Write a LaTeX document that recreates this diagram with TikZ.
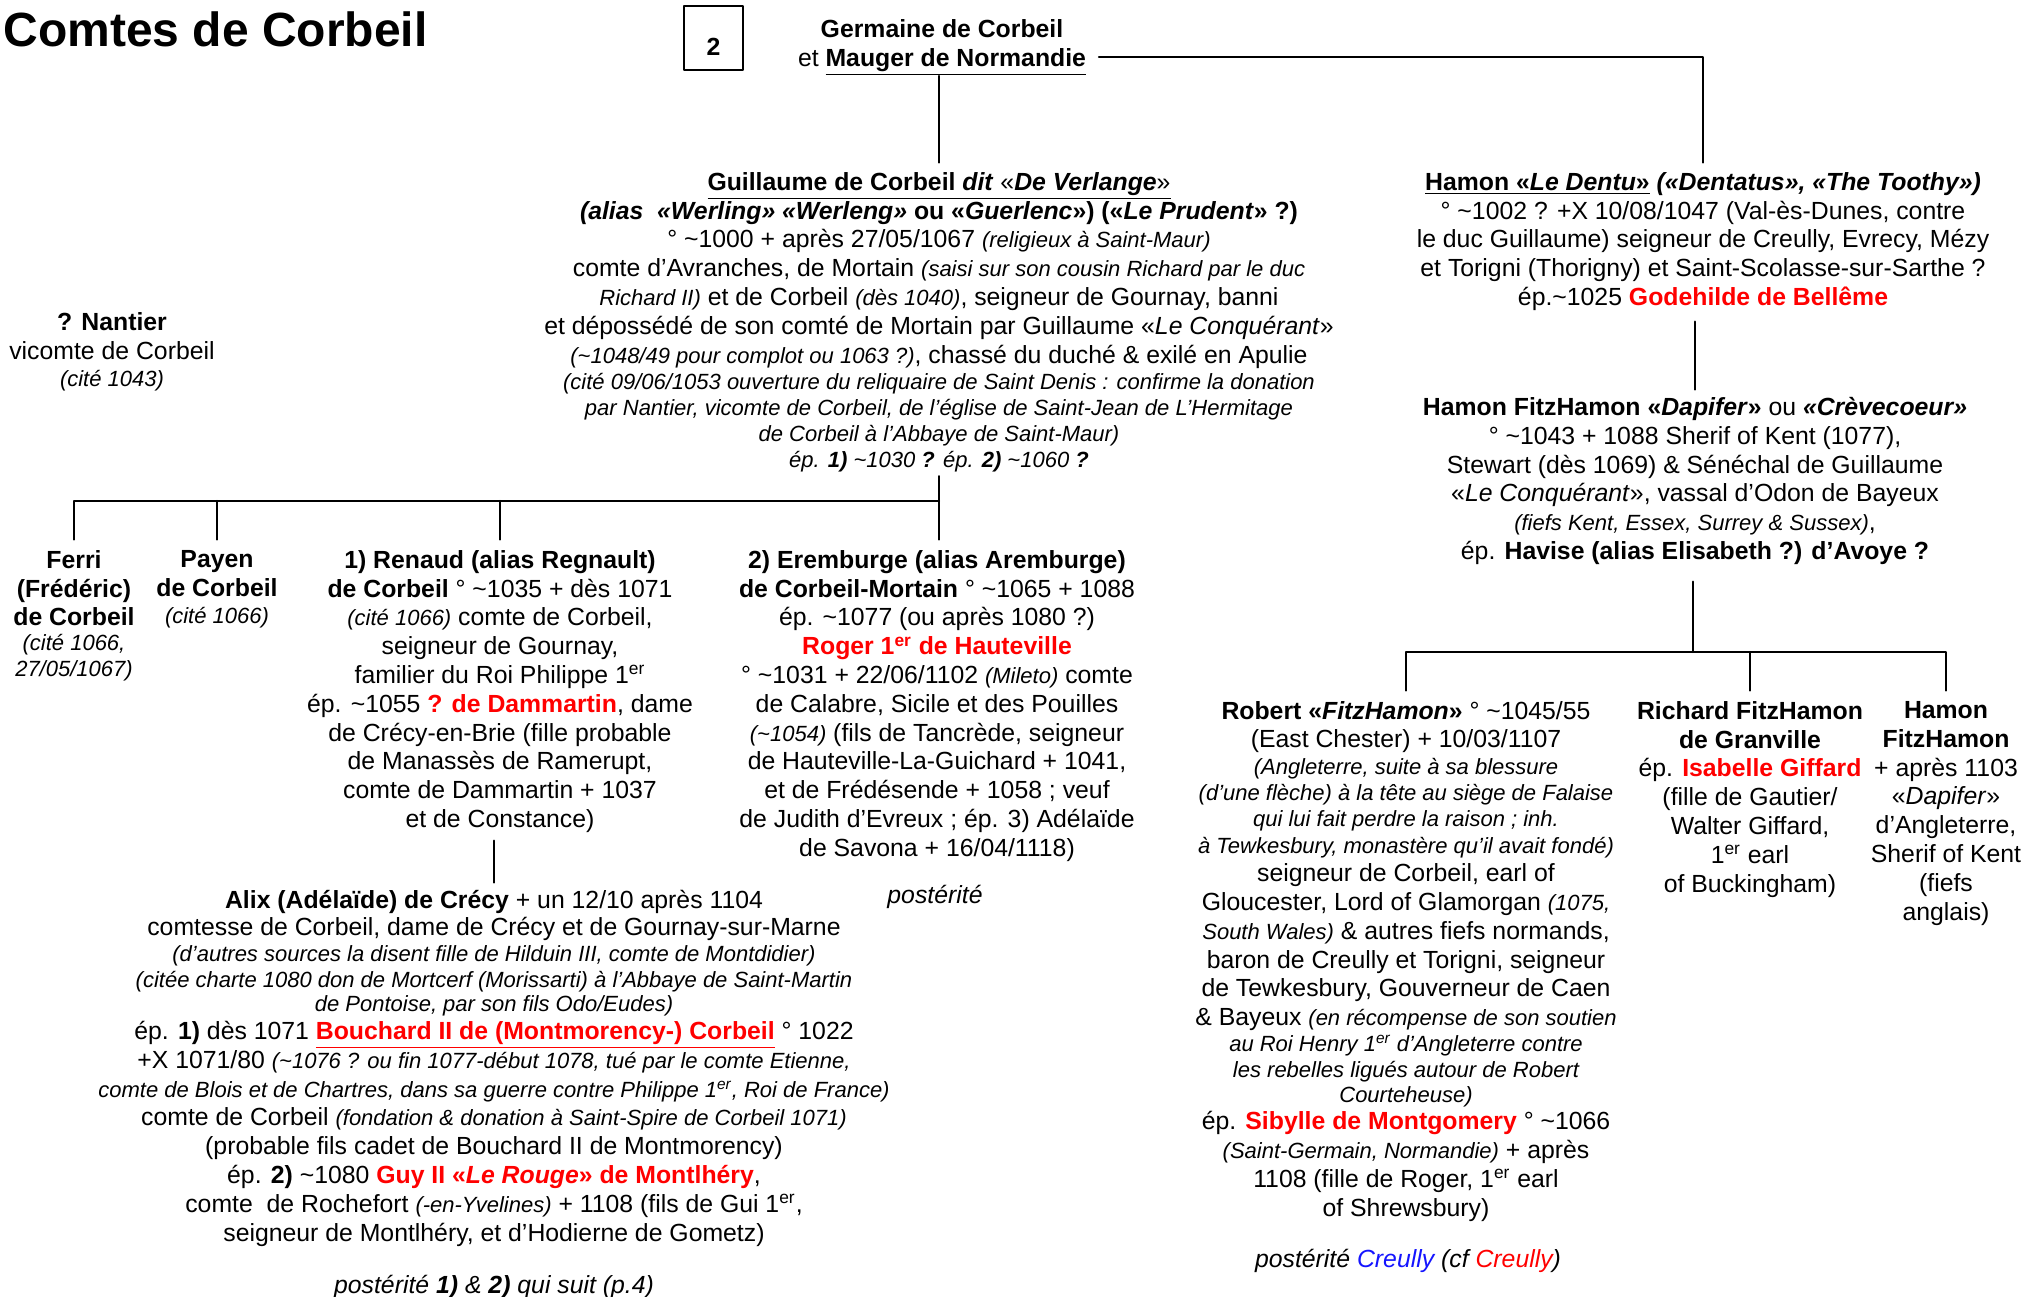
\documentclass[tikz,border=0pt]{standalone}
\usepackage{fontspec}
\setmainfont{Liberation Sans}

\definecolor{kinred}{RGB}{255,0,0}
\definecolor{kinblue}{RGB}{20,20,255}

% small helpers for the family notes
\newcommand{\tld}{\textasciitilde}
\newcommand{\inote}[1]{{\fontsize{11}{14.4}\selectfont\itshape #1}}
\newcommand{\redname}[1]{\textcolor{kinred}{\textbf{#1}}}
\newcommand{\ier}{\textsuperscript{er}}

\begin{document}
\begin{tikzpicture}[
		x=0.5pt, y=-0.5pt,   % pixel-like units, y pointing down
		line cap=round, line join=round,
		% --- person blocks ---
		kin/.style={align=center, anchor=north, inner sep=0pt, yshift=-1.25pt,
			font=\fontsize{12.4}{14.4}\selectfont,
			execute at begin node=\strut, execute at end node=\strut},
		oneline/.style={anchor=base, inner sep=0pt, yshift=-0.5pt,
			font=\fontsize{12.4}{14.4}\selectfont\itshape},
		link/.style={line width=1.15pt},
		pagebox/.style={draw, line width=1pt, minimum width=29.5pt,
			minimum height=32pt, inner sep=0pt}
		]
		
		\useasboundingbox (0,0) rectangle (2023,1296);
		
		% ---------- Title and page number ----------
		\node[anchor=base west, inner sep=0pt, font=\fontsize{24}{28}\selectfont\bfseries]
		(title) at (3,46) {Comtes de Corbeil};
		\node[pagebox] (page) at (713.5,38) {};
		\node[font=\fontsize{12.4}{14.4}\selectfont\bfseries, inner sep=0pt]
		at ([yshift=-4.25pt]page.center) {2};
		
		% ---------- Generation 1 ----------
		\node[kin] (germaine) at (942,16.5) {\textbf{Germaine de Corbeil}\\
			et \underline{\textbf{Mauger de Normandie}}};
		
		% ---------- Generation 2 ----------
		\node[kin] (guillaume) at (939,169.5) {%
			\underline{\textbf{Guillaume de Corbeil \textit{dit}} «\textbf{\textit{De Verlange}}»}\\
			\textbf{\textit{(alias\ \ «Werling» «Werleng»} ou «\textit{Guerlenc}») («\textit{Le Prudent}» ?)}\\
			° \tld1000 + après 27/05/1067 \inote{(religieux à Saint-Maur)}\\
			comte d’Avranches, de Mortain \inote{(saisi sur son cousin Richard par le duc}\\
			\inote{Richard II)} et de Corbeil \inote{(dès 1040)}, seigneur de Gournay, banni\\
			et dépossédé de son comté de Mortain par Guillaume «\textit{Le Conquérant}»\\
			\inote{(\tld1048/49 pour complot ou 1063 ?)}, chassé du duché \& exilé en Apulie\\[-1.4pt]
			\inote{(cité 09/06/1053 ouverture du reliquaire de Saint Denis : confirme la donation}\\[-1.4pt]
			\inote{par Nantier, vicomte de Corbeil, de l’église de Saint-Jean de L’Hermitage}\\[-1.4pt]
			\inote{de Corbeil à l’Abbaye de Saint-Maur)}\\[-1.4pt]
			\inote{ép. \textbf{1)} \tld1030 \textbf{?} ép. \textbf{2)} \tld1060 \textbf{?}}};
		
		\node[kin] (hamon) at (1703,169.5) {%
			\underline{\textbf{Hamon «\textit{Le Dentu}»}} \textbf{\textit{(«Dentatus», «The Toothy»)}}\\
			° \tld1002 ? +X 10/08/1047 (Val-ès-Dunes, contre\\
			le duc Guillaume) seigneur de Creully, Evrecy, Mézy\\
			et Torigni (Thorigny) et Saint-Scolasse-sur-Sarthe ?\\
			ép.\tld1025 \redname{Godehilde de Bellême}};
		
		\node[kin] (nantier) at (112,309.5) {\textbf{? Nantier}\\
			vicomte de Corbeil\\[-0.9pt]
			\inote{(cité 1043)}};
		
		% ---------- Generation 3 ----------
		\node[kin] (ferri) at (74,547.5) {\textbf{Ferri}\\
			\textbf{(Frédéric)}\\
			\textbf{de Corbeil}\\[-1.9pt]
			\inote{(cité 1066,}\\[-1.4pt]
			\inote{27/05/1067)}};
		
		\node[kin] (payen) at (217,547.5) {\textbf{Payen}\\
			\textbf{de Corbeil}\\[-0.9pt]
			\inote{(cité 1066)}};
		
		\node[kin] (renaud) at (500,547.5) {%
			\textbf{1) Renaud (alias Regnault)}\\
			\textbf{de Corbeil} ° \tld1035 + dès 1071\\
			\inote{(cité 1066)} comte de Corbeil,\\
			seigneur de Gournay,\\
			familier du Roi Philippe 1\ier\\
			ép. \tld1055 \redname{? de Dammartin}, dame\\
			de Crécy-en-Brie (fille probable\\
			de Manassès de Ramerupt,\\
			comte de Dammartin + 1037\\
			et de Constance)};
		
		\node[kin] (eremb) at (937,547.5) {%
			\textbf{2) Eremburge (alias Aremburge)}\\
			\textbf{de Corbeil-Mortain} ° \tld1065 + 1088\\
			ép. \tld1077 (ou après 1080 ?)\\
			\redname{Roger 1\ier{} de Hauteville}\\
			° \tld1031 + 22/06/1102 \inote{(Mileto)} comte\\
			de Calabre, Sicile et des Pouilles\\
			\inote{(\tld1054)} (fils de Tancrède, seigneur\\
			de Hauteville-La-Guichard + 1041,\\
			et de Frédésende + 1058 ; veuf\\
			de Judith d’Evreux ; ép. 3) Adélaïde\\
			de Savona + 16/04/1118)};
		\node[oneline] (eremblater) at (935,902.5) {postérité};
		
		\node[kin] (fitz) at (1695,394.5) {%
			\textbf{Hamon FitzHamon «\textit{Dapifer}»} ou \textbf{\textit{«Crèvecoeur»}}\\
			° \tld1043 + 1088 Sherif of Kent (1077),\\
			Stewart (dès 1069) \& Sénéchal de Guillaume\\
			«\textit{Le Conquérant}», vassal d’Odon de Bayeux\\
			\inote{(fiefs Kent, Essex, Surrey \& Sussex)},\\
			ép. \textbf{Havise (alias Elisabeth ?) d’Avoye ?}};
		
		% ---------- Generation 4 ----------
		\node[kin] (alix) at (494,887.5) {%
			\textbf{Alix (Adélaïde) de Crécy} + un 12/10 après 1104\\[-1pt]
			comtesse de Corbeil, dame de Crécy et de Gournay-sur-Marne\\[-1.4pt]
			\inote{(d’autres sources la disent fille de Hilduin III, comte de Montdidier)}\\[-1.4pt]
			\inote{(citée charte 1080 don de Mortcerf (Morissarti) à l’Abbaye de Saint-Martin}\\[-2.4pt]
			\inote{de Pontoise, par son fils Odo/Eudes)}\\[-0.4pt]
			ép. \textbf{1)} dès 1071 \textcolor{kinred}{\underline{\textbf{Bouchard II de (Montmorency-) Corbeil}}} ° 1022\\
			+X 1071/80 \inote{(\tld1076 ? ou fin 1077-début 1078, tué par le comte Etienne,}\\
			\inote{comte de Blois et de Chartres, dans sa guerre contre Philippe 1\ier, Roi de France)}\\
			comte de Corbeil \inote{(fondation \& donation à Saint-Spire de Corbeil 1071)}\\
			(probable fils cadet de Bouchard II de Montmorency)\\
			ép. \textbf{2)} \tld1080 \redname{Guy II «\textit{Le Rouge}» de Montlhéry},\\
			comte\ \ de Rochefort \inote{(-en-Yvelines)} + 1108 (fils de Gui 1\ier,\\
			seigneur de Montlhéry, et d’Hodierne de Gometz)};
		\node[oneline] (alixlater) at (494,1292.5) {postérité \textbf{1)} \& \textbf{2)} qui suit (p.4)};
		
		\node[kin] (robert) at (1406,698.5) {%
			\textbf{Robert «\textit{FitzHamon}»} ° \tld1045/55\\[-0.2pt]
			(East Chester) + 10/03/1107\\[-0.9pt]
			\inote{(Angleterre, suite à sa blessure}\\[-1.4pt]
			\inote{(d’une flèche) à la tête au siège de Falaise}\\[-1.4pt]
			\inote{qui lui fait perdre la raison ; inh.}\\[-0.9pt]
			\inote{à Tewkesbury, monastère qu’il avait fondé)}\\[-0.4pt]
			seigneur de Corbeil, earl of\\
			Gloucester, Lord of Glamorgan \inote{(1075,}\\
			\inote{South Wales)} \& autres fiefs normands,\\
			baron de Creully et Torigni, seigneur\\
			de Tewkesbury, Gouverneur de Caen\\
			\& Bayeux \inote{(en récompense de son soutien}\\[-1.4pt]
			\inote{au Roi Henry 1\ier{} d’Angleterre contre}\\[-1.4pt]
			\inote{les rebelles ligués autour de Robert}\\[-1.9pt]
			\inote{Courteheuse)}\\[-0.9pt]
			ép. \redname{Sibylle de Montgomery} ° \tld1066\\
			\inote{(Saint-Germain, Normandie)} + après\\
			1108 (fille de Roger, 1\ier{} earl\\
			of Shrewsbury)};
		\node[oneline] (robertlater) at (1408,1266.5)
		{postérité \textcolor{kinblue}{Creully} (cf \textcolor{kinred}{Creully})};
		
		\node[kin] (richard) at (1750,698.5) {%
			\textbf{Richard FitzHamon}\\
			\textbf{de Granville}\\
			ép. \redname{Isabelle Giffard}\\
			(fille de Gautier/\\
			Walter Giffard,\\
			1\ier{} earl\\
			of Buckingham)};
		
		\node[kin] (hamonjr) at (1946,698.5) {%
			\textbf{Hamon}\\
			\textbf{FitzHamon}\\
			+ après 1103\\
			«\textit{Dapifer}»\\
			d’Angleterre,\\
			Sherif of Kent\\
			(fiefs\\
			anglais)};
		
		% ---------- Connectors ----------
		% Germaine -> Guillaume, and the couple line -> Hamon
		\draw[link, shorten >=4.75pt] (guillaume.north |- germaine.south) -- (guillaume.north);
		\coordinate (mauger) at (1099,57);
		\draw[link, shorten >=4.75pt] (mauger) -| (hamon.north);
		
		% Guillaume -> his children
		\coordinate (sibs) at (939,501);
		\draw[link] (guillaume.south) -- (sibs);
		\draw[link, shorten >=5.25pt] (sibs) -| (ferri.north);
		\draw[link, shorten >=5.25pt] (sibs -| payen.north) -- (payen.north);
		\draw[link, shorten >=5.25pt] (sibs -| renaud.north) -- (renaud.north);
		\draw[link, shorten >=5.25pt] (sibs) -- (sibs |- eremb.north);
		
		% Renaud -> Alix
		\draw[link, shorten <=2pt, shorten >=3.75pt] (alix.north |- renaud.south) -- (alix.north);
		
		% Hamon -> Hamon FitzHamon -> his sons
		\draw[link, shorten <=3.5pt, shorten >=3.75pt] (fitz.north |- hamon.south) -- (fitz.north);
		\coordinate (fitzkids) at (1693,652);
		\draw[link, shorten <=6.5pt] (fitzkids |- fitz.south) -- (fitzkids);
		\draw[link, shorten >=5.25pt] (fitzkids) -| (robert.north);
		\draw[link, shorten >=5.25pt] (fitzkids -| richard.north) -- (richard.north);
		\draw[link, shorten >=5.25pt] (fitzkids) -| (hamonjr.north);
		
	\end{tikzpicture}
\end{document}
